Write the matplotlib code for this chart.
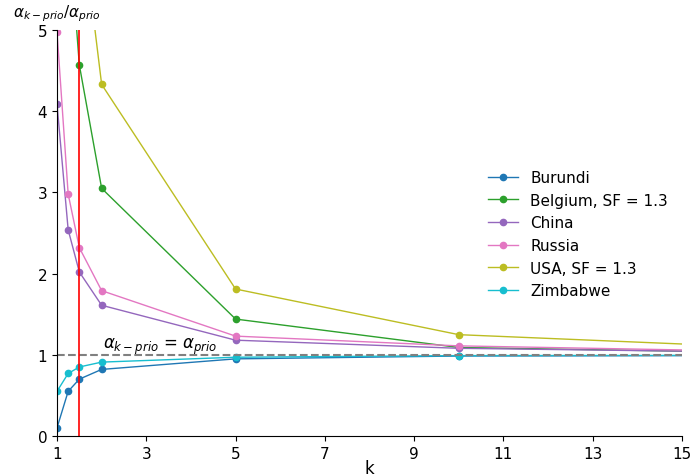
import matplotlib
matplotlib.use("Agg")
import matplotlib.pyplot as plt

k = [1, 1.25, 1.5, 2, 5, 10, 20]
countries = ["Burundi", "Belgium, SF = 1.3", "China", "Russia", "USA, SF = 1.3", "Zimbabwe"]
burundi = [0.10, 0.55, 0.70, 0.82, 0.95, 0.985, 0.995]
belgium = [15.0, 6.4, 4.57, 3.05, 1.44, 1.09, 1.00]
china = [4.09, 2.54, 2.02, 1.61, 1.18, 1.08, 1.01]
russia = [4.98, 2.98, 2.32, 1.79, 1.23, 1.11, 1.01]
usa = [20.0, 10.0, 6.58, 4.33, 1.81, 1.248, 1.018]
zimbabwe = [0.55, 0.77, 0.85, 0.91, 0.97, 0.99, 0.995]
series = [burundi, belgium, china, russia, usa, zimbabwe]
colors = ["tab:blue", "tab:green", "tab:purple", "tab:pink", "tab:olive", "tab:cyan"]

k_threshold = 1.5
xticks = [1, 3, 5, 7, 9, 11, 13, 15]
yticks = [0, 1, 2, 3, 4, 5]

fig = plt.figure(figsize=(6.92, 4.77), dpi=100)
ax = fig.add_axes([57/692, 40/477, 625/692, 406/477])

for name, vals, c in zip(countries, series, colors):
    ax.plot(k, vals, marker="o", markersize=4.5, linewidth=1.0, color=c, label=name)

ax.axhline(1, color="gray", linestyle="--", linewidth=1.5)
ax.axvline(k_threshold, color="red", linewidth=1.2)

ax.text(2.03, 1.08, r"$\alpha_{k-prio}$ = $\alpha_{prio}$", fontsize=12)

ax.set_xlim(1, 15)
ax.set_ylim(0, 5)
ax.set_xticks(xticks)
ax.set_yticks(yticks)
ax.tick_params(labelsize=11)
ax.set_xlabel("k", fontsize=12)
ax.xaxis.set_label_coords(0.5, -0.057)
fig.text(13/692, 1 - 14/477, r"$\alpha_{k-prio}/\alpha_{prio}$", fontsize=11, va="center", ha="left")

for s in ["top", "right"]:
    ax.spines[s].set_visible(False)

ax.legend(loc="center right", frameon=False, fontsize=11, bbox_to_anchor=(1.0, 0.497))

fig.savefig("out.png", dpi=100)
